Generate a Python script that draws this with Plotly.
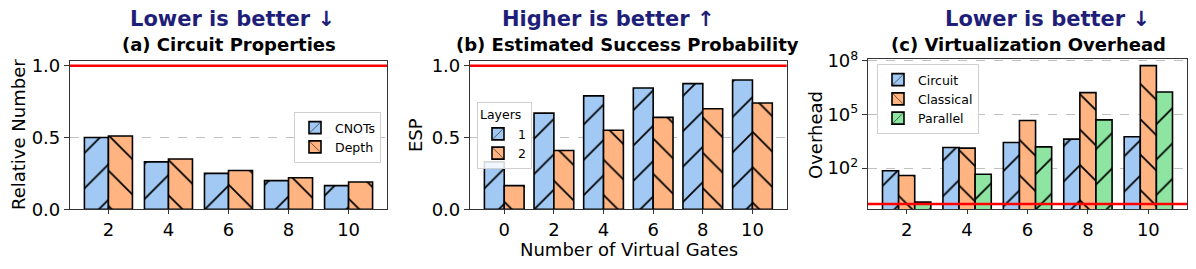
import plotly.graph_objects as go

# ---------------- data ----------------
cats_a = ["2", "4", "6", "8", "10"]
cnots = [0.50, 0.33, 0.25, 0.20, 0.165]
depth = [0.51, 0.35, 0.27, 0.22, 0.19]

cats_b = ["0", "2", "4", "6", "8", "10"]
layers1 = [0.33, 0.67, 0.79, 0.845, 0.875, 0.90]
layers2 = [0.165, 0.41, 0.55, 0.64, 0.70, 0.74]

cats_c = ["2", "4", "6", "8", "10"]
circuit = [71, 1420, 2700, 4170, 5640]
classical = [39, 1310, 45600, 1.66e6, 5.4e7]
parallel = [1.26, 46, 1550, 50000, 1.8e6]

reference = 1.0
log_ticks = [1e2, 1e5, 1e8]
log_ticktext = ["10<sup>2</sup>", "10<sup>5</sup>", "10<sup>8</sup>"]

BLUE = "#a1c9f4"
ORANGE = "#ffb482"
GREEN = "#8de5a1"
NAVY = "#1f1f7a"
FONT = "DejaVu Sans"

# the page body has an 8px margin, so the figure is drawn 8px in from the corner
OFF = 8
W, H = 1196 - OFF, 269 - OFF


def px_x(p):
    return (p - OFF) / W


def px_y(p):
    return 1 - (p - OFF) / H


def bar(name, x, y, color, shape, xa, ya, legend):
    return go.Bar(
        name=name, x=x, y=y, xaxis=xa, yaxis=ya, legend=legend,
        marker=dict(
            color=color,
            line=dict(color="black", width=1.6),
            pattern=dict(shape=shape, fgcolor="black", fgopacity=1, size=25,
                         solidity=0.07, fillmode="overlay"),
        ),
    )


fig = go.Figure()
fig.add_trace(bar("CNOTs", cats_a, cnots, BLUE, "/", "x", "y", "legend"))
fig.add_trace(bar("Depth", cats_a, depth, ORANGE, "\\", "x", "y", "legend"))
fig.add_trace(bar("1", cats_b, layers1, BLUE, "/", "x2", "y2", "legend2"))
fig.add_trace(bar("2", cats_b, layers2, ORANGE, "\\", "x2", "y2", "legend2"))
fig.add_trace(bar("Circuit", cats_c, circuit, BLUE, "/", "x3", "y3", "legend3"))
fig.add_trace(bar("Classical", cats_c, classical, ORANGE, "\\", "x3", "y3", "legend3"))
fig.add_trace(bar("Parallel", cats_c, parallel, GREEN, "/", "x3", "y3", "legend3"))

tickfont = dict(family=FONT, size=18, color="black")
axis_common = dict(showline=True, mirror=True, linecolor="#333333", linewidth=1.2,
                   ticks="outside", tickcolor="#333333", tickfont=tickfont,
                   zeroline=False)
xcommon = dict(ticklen=4, showgrid=False, type="category", **axis_common)
ycommon = dict(ticklen=5, showgrid=True, gridcolor="#c0c0c0", griddash="dash",
               gridwidth=1, **axis_common)

ytop_ab = px_y(61.4)
ybot = px_y(209.3)

legend_common = dict(bgcolor="rgba(255,255,255,0.85)", bordercolor="#d0d0d0",
                     borderwidth=1, font=dict(family=FONT, size=12.5), tracegroupgap=0)

layout = dict(
    width=W, height=H, margin=dict(l=0, r=0, t=0, b=0, autoexpand=False),
    plot_bgcolor="white", paper_bgcolor="white",
    barmode="group", bargap=0.2, bargroupgap=0,
    font=dict(family=FONT, color="black"),
    showlegend=True,
    xaxis=dict(domain=[px_x(70), px_x(387)], range=[-0.64, 4.64], anchor="y", **xcommon),
    yaxis=dict(domain=[ybot, ytop_ab], range=[0, 1.03], tickvals=[0, 0.5, 1.0],
               ticktext=["0.0", "0.5", "1.0"], anchor="x", **ycommon),
    xaxis2=dict(domain=[px_x(470), px_x(786.7)], range=[-0.69, 5.69], anchor="y2",
                **xcommon),
    yaxis2=dict(domain=[ybot, ytop_ab], range=[0, 1.03], tickvals=[0, 0.5, 1.0],
                ticktext=["0.0", "0.5", "1.0"], anchor="x2", **ycommon),
    xaxis3=dict(domain=[px_x(868), px_x(1187)], range=[-0.64, 4.64], anchor="y3",
                **xcommon),
    yaxis3=dict(domain=[ybot, px_y(59)], type="log", range=[-0.3, 8.1],
                tickvals=log_ticks, ticktext=log_ticktext, anchor="x3", **ycommon),
    legend=dict(x=px_x(381), y=px_y(112), xanchor="right", yanchor="top",
                **legend_common),
    legend2=dict(x=px_x(477), y=px_y(102), xanchor="left", yanchor="top",
                 title=dict(text="Layers", font=dict(family=FONT, size=12.5)),
                 **legend_common),
    legend3=dict(x=px_x(877), y=px_y(64), xanchor="left", yanchor="top",
                 **legend_common),
)
fig.update_layout(**layout)

# red reference lines
for xr, yr in [("x", "y"), ("x2", "y2"), ("x3", "y3")]:
    fig.add_shape(type="line", xref=f"{xr} domain", yref=yr, x0=0, x1=1,
                  y0=reference, y1=reference, line=dict(color="red", width=2.5),
                  layer="above")

ann = []
# headings
for txt, cx in [("Lower is better ↓", 232), ("Higher is better ↑", 609),
                ("Lower is better ↓", 1047)]:
    ann.append(dict(text=f"<b>{txt}</b>", x=px_x(cx), y=px_y(19), xref="paper",
                    yref="paper", showarrow=False, xanchor="center", yanchor="middle",
                    font=dict(family=FONT, size=21, color=NAVY)))
for txt, cx in [("(a) Circuit Properties", 229), ("(b) Estimated Success Probability", 627),
                ("(c) Virtualization Overhead", 1028)]:
    ann.append(dict(text=f"<b>{txt}</b>", x=px_x(cx), y=px_y(45), xref="paper",
                    yref="paper", showarrow=False, xanchor="center", yanchor="middle",
                    font=dict(family=FONT, size=18, color="black")))
# y titles
for txt, cx in [("Relative Number", 18), ("ESP", 415), ("Overhead", 815)]:
    ann.append(dict(text=txt, x=px_x(cx), y=px_y(135), xref="paper", yref="paper",
                    showarrow=False, textangle=-90, xanchor="center", yanchor="middle",
                    font=dict(family=FONT, size=18, color="black")))
ann.append(dict(text="Number of Virtual Gates", x=px_x(629), y=px_y(249), xref="paper",
                yref="paper", showarrow=False, xanchor="center", yanchor="middle",
                font=dict(family=FONT, size=18, color="black")))
fig.update_layout(annotations=ann)

fig.write_html("out.html")
